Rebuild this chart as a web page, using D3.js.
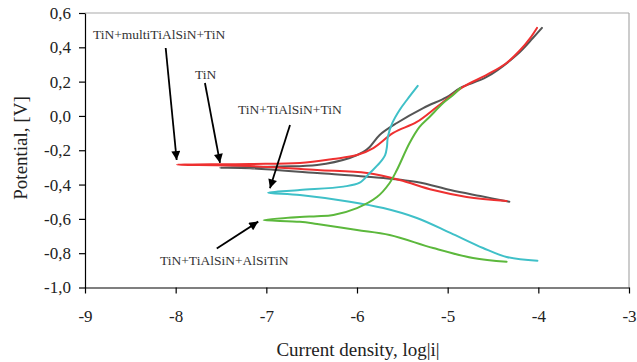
<!DOCTYPE html>
<html>
<head>
<meta charset="utf-8">
<script src="https://cdn.jsdelivr.net/npm/d3@7"></script>
<style>
  html, body { margin: 0; padding: 0; background: #fff; }
  svg { display: block; }
  text { font-family: "Liberation Serif", "Times New Roman", serif; }
</style>
</head>
<body>
<svg id="chart" width="637" height="362"></svg>
<script>
// ---- Data (log|i|, Potential V) ----
const xTicks = [-9, -8, -7, -6, -5, -4, -3];
const yTicks = [-1.0, -0.8, -0.6, -0.4, -0.2, 0.0, 0.2, 0.4, 0.6];

// TiN (gray): cathodic end -> Ecorr -> anodic end
const tinLogI = [-4.32, -4.64, -4.97, -5.34, -5.89, -6.44, -7.18, -7.51,
                 -6.85, -6.44, -6.08, -5.93, -5.86, -5.75, -5.56, -5.27, -5.01, -4.86, -4.57, -4.24, -4.06, -3.96];
const tinE    = [-0.500, -0.467, -0.432, -0.385, -0.354, -0.333, -0.305, -0.302,
                 -0.295, -0.286, -0.245, -0.210, -0.181, -0.111, -0.041, 0.046, 0.110, 0.163, 0.227, 0.355, 0.454, 0.513];

// TiN+multiTiAlSiN+TiN (red)
const multiLogI = [-4.35, -4.79, -5.16, -5.53, -5.89, -6.44, -7.18, -7.985,
                   -7.18, -6.63, -6.265, -6.0, -5.82, -5.60, -5.34, -5.12, -4.83, -4.57, -4.35, -4.20, -4.09, -4.015];
const multiE    = [-0.496, -0.472, -0.432, -0.373, -0.333, -0.315, -0.292, -0.284,
                   -0.280, -0.274, -0.251, -0.228, -0.187, -0.099, -0.035, 0.052, 0.169, 0.239, 0.309, 0.384, 0.454, 0.513];

// TiN+TiAlSiN+TiN (cyan)
const tialLogI = [-4.01, -4.35, -4.61, -4.97, -5.34, -5.71, -6.08, -6.63, -6.98,
                  -6.63, -6.15, -5.97, -5.86, -5.75, -5.69, -5.67, -5.66, -5.61, -5.53, -5.45, -5.33];
const tialE    = [-0.844, -0.822, -0.770, -0.682, -0.595, -0.537, -0.500, -0.461, -0.447,
                  -0.432, -0.412, -0.389, -0.333, -0.274, -0.228, -0.181, -0.123, -0.041, 0.035, 0.093, 0.175];

// TiN+TiAlSiN+AlSiTiN (green)
const alsiLogI = [-4.35, -4.72, -5.16, -5.64, -6.0, -6.44, -6.63, -7.03,
                  -6.63, -6.44, -6.26, -6.0, -5.78, -5.64, -5.56, -5.42, -5.31, -5.20, -5.05, -4.94, -4.86];
const alsiE    = [-0.850, -0.828, -0.770, -0.694, -0.665, -0.630, -0.617, -0.607,
                  -0.589, -0.585, -0.577, -0.537, -0.473, -0.391, -0.315, -0.158, -0.064, -0.006, 0.075, 0.122, 0.163];

const seriesNames  = ["TiN", "TiN+multiTiAlSiN+TiN", "TiN+TiAlSiN+TiN", "TiN+TiAlSiN+AlSiTiN"];
const seriesColors = ["#555555", "#ee3030", "#3fc0c8", "#5cb83c"];

// Annotations: label position and arrow (data units)
const annText  = ["TiN+multiTiAlSiN+TiN", "TiN", "TiN+TiAlSiN+TiN", "TiN+TiAlSiN+AlSiTiN"];
const annTextX = [-8.912, -7.787, -7.313, -8.173];
const annTextY = [0.451, 0.218, 0.014, -0.869];
const arrFromX = [-8.11, -7.677, -6.739, -7.547];
const arrFromY = [0.396, 0.192, -0.053, -0.772];
const arrToX   = [-7.989, -7.511, -6.960, -7.089];
const arrToY   = [-0.257, -0.274, -0.422, -0.616];

// ---- Chart ----
const svg = d3.select("#chart");
const mLeft = 85, mRight = 629, mTop = 13, mBottom = 287.5;

const x = d3.scaleLinear().domain([-9, -3]).range([mLeft, mRight]);
const y = d3.scaleLinear().domain([-1.0, 0.6]).range([mBottom, mTop]);

const loc = d3.formatLocale({decimal: ",", thousands: ".", grouping: [3], currency: ["", ""], minus: "-"});
const fy = loc.format(".1f");
const fx = loc.format("d");

// frame (top/right)
svg.append("line").attr("x1", mLeft).attr("x2", mRight).attr("y1", mTop).attr("y2", mTop)
  .attr("stroke", "#aaa").attr("stroke-width", 1.2);
svg.append("line").attr("x1", mRight).attr("x2", mRight).attr("y1", mTop).attr("y2", mBottom)
  .attr("stroke", "#aaa").attr("stroke-width", 1.2);

const yAxis = svg.append("g").attr("transform", `translate(${mLeft},0)`)
  .call(d3.axisLeft(y).tickValues(yTicks).tickFormat(fy).tickSize(6).tickSizeOuter(0).tickPadding(8));
const xAxis = svg.append("g").attr("transform", `translate(0,${mBottom})`)
  .call(d3.axisBottom(x).tickValues(xTicks).tickFormat(fx).tickSize(6).tickSizeOuter(0).tickPadding(16));
[yAxis, xAxis].forEach(a => {
  a.select(".domain").attr("stroke", "#000").attr("stroke-width", 1.2);
  a.selectAll(".tick line").attr("stroke", "#000").attr("stroke-width", 1.2);
  a.selectAll(".tick text").attr("fill", "#222").style("font-size", "17px")
    .style("font-family", '"Liberation Serif", serif');
});

// axis titles
svg.append("text").attr("x", 358).attr("y", 356).attr("text-anchor", "middle")
  .attr("fill", "#222").style("font-size", "19px").text("Current density, log|i|");
svg.append("text").attr("transform", "translate(27,148) rotate(-90)").attr("text-anchor", "middle")
  .attr("fill", "#222").style("font-size", "19px").text("Potential, [V]");

// curves
const allX = [tinLogI, multiLogI, tialLogI, alsiLogI];
const allY = [tinE, multiE, tialE, alsiE];
const line = d3.line().x(d => x(d[0])).y(d => y(d[1])).curve(d3.curveCatmullRom.alpha(0.5));
seriesNames.forEach((name, i) => {
  const pts = allX[i].map((v, j) => [v, allY[i][j]]);
  svg.append("path").datum(pts).attr("d", line)
    .attr("fill", "none").attr("stroke", seriesColors[i]).attr("stroke-width", 2)
    .attr("stroke-linejoin", "round").attr("stroke-linecap", "round");
});

// arrowhead marker
svg.append("defs").append("marker").attr("id", "ah")
  .attr("viewBox", "0 0 10 10").attr("refX", 10).attr("refY", 5)
  .attr("markerWidth", 5.5).attr("markerHeight", 5).attr("markerUnits", "strokeWidth")
  .attr("orient", "auto")
  .append("path").attr("d", "M0,0 L10,5 L0,10 Z").attr("fill", "#000");

annText.forEach((t, i) => {
  svg.append("text").attr("x", x(annTextX[i])).attr("y", y(annTextY[i]))
    .attr("fill", "#333").style("font-size", "13.5px").text(t);
  svg.append("line")
    .attr("x1", x(arrFromX[i])).attr("y1", y(arrFromY[i]))
    .attr("x2", x(arrToX[i])).attr("y2", y(arrToY[i]))
    .attr("stroke", "#000").attr("stroke-width", 1.8).attr("marker-end", "url(#ah)");
});
</script>
</body>
</html>
